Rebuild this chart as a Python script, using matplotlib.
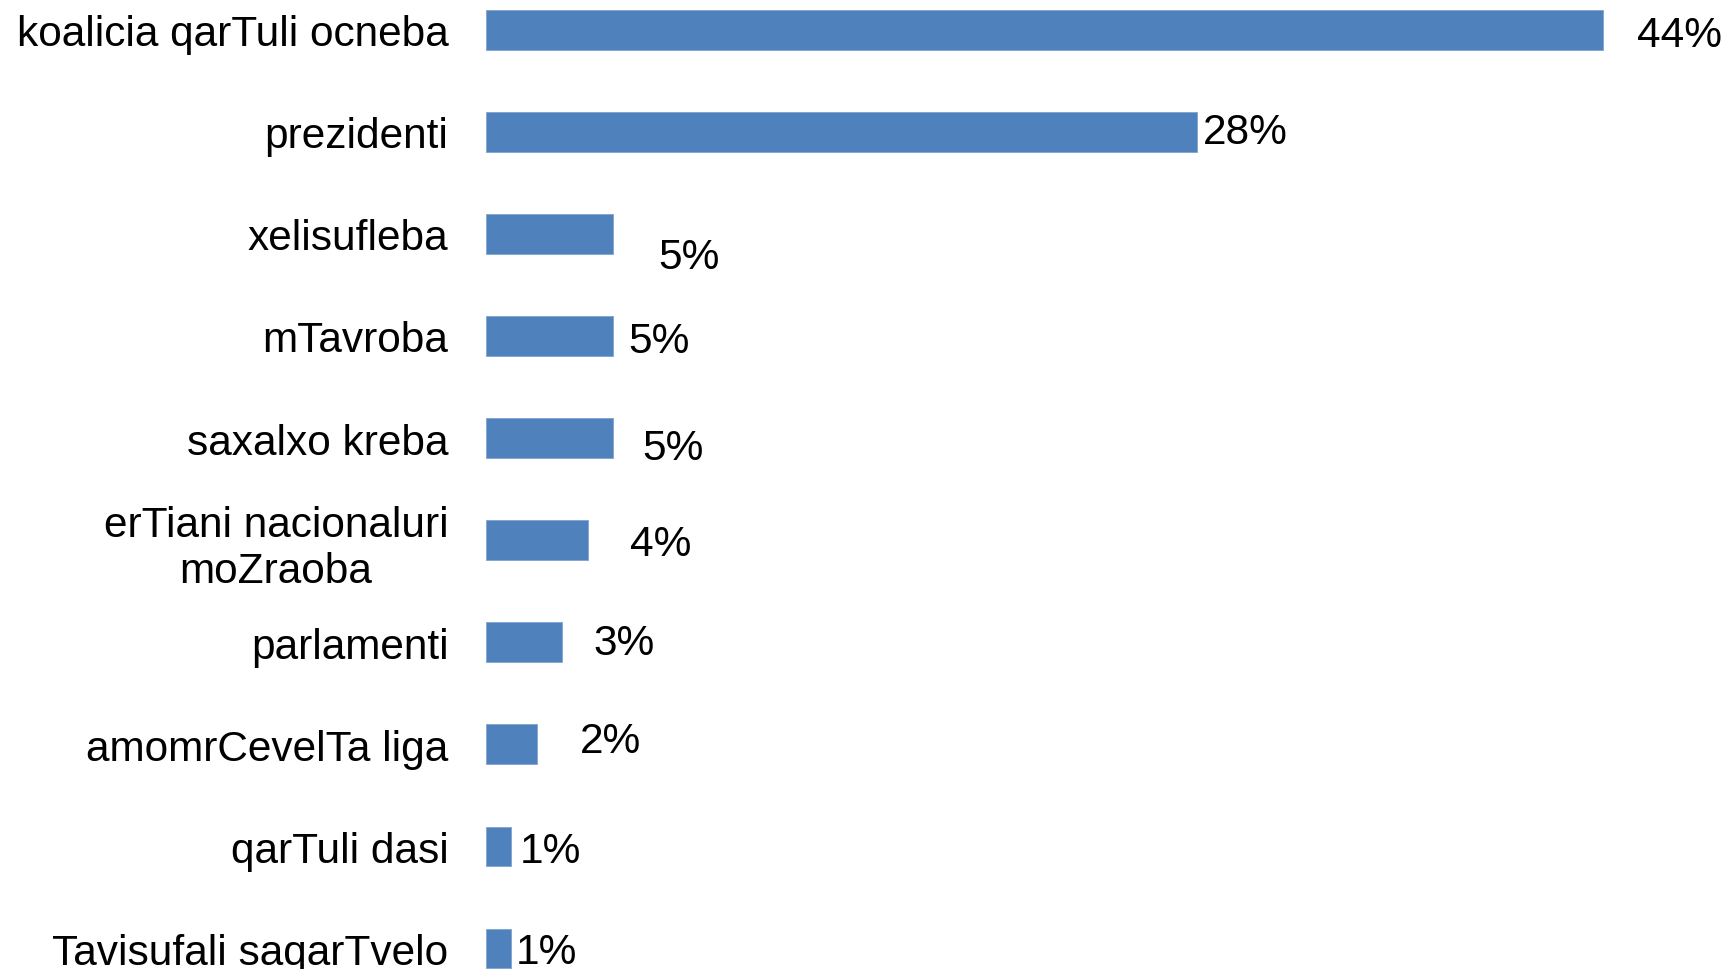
import matplotlib.pyplot as plt

plt.rcParams['font.family'] = ['Liberation Sans', 'DejaVu Sans']

# data
parties = ['koalicia qarTuli ocneba', 'prezidenti', 'xelisufleba', 'mTavroba',
           'saxalxo kreba', 'erTiani nacionaluri\nmoZraoba', 'parlamenti',
           'amomrCevelTa liga', 'qarTuli dasi', 'Tavisufali saqarTvelo']
shares = [44, 28, 5, 5, 5, 4, 3, 2, 1, 1]
value_labels = ['44%', '28%', '5%', '5%', '5%', '4%', '3%', '2%', '1%', '1%']

# label offsets from bar end (pixels), as placed in the original
label_dx = [34, 6, 45, 15, 29, 42, 31, 43, 8, 4]
label_dy = [-5, 0, -23, -5, -10, -4, -1, 3, -5, -3]

bar_color = '#4F81BD'

fig = plt.figure(figsize=(17.25, 9.7), dpi=100)
ax = fig.add_axes([486 / 1725, 0, 1 - 486 / 1725, 1])

ypos = list(range(len(parties)))
ax.barh(ypos, shares, height=0.39, color=bar_color, edgecolor='#7fa3d0', linewidth=0.6)

for y, v, lab, dx, dy in zip(ypos, shares, value_labels, label_dx, label_dy):
    ax.annotate(lab, xy=(v, y), xytext=(dx, dy), textcoords='offset pixels',
                ha='left', va='center', fontsize=30.5, color='black')

ax.set_xlim(0, 48.8)
ax.set_ylim(9.2, -0.3)
ax.set_yticks(ypos)
ax.set_yticklabels(parties, fontsize=30.5)
for t in ax.get_yticklabels():
    t.set_multialignment('center')
ax.tick_params(axis='y', length=0, pad=27)
ax.set_xticks([])
for s in ax.spines.values():
    s.set_visible(False)

fig.savefig('out.png', dpi=100)
